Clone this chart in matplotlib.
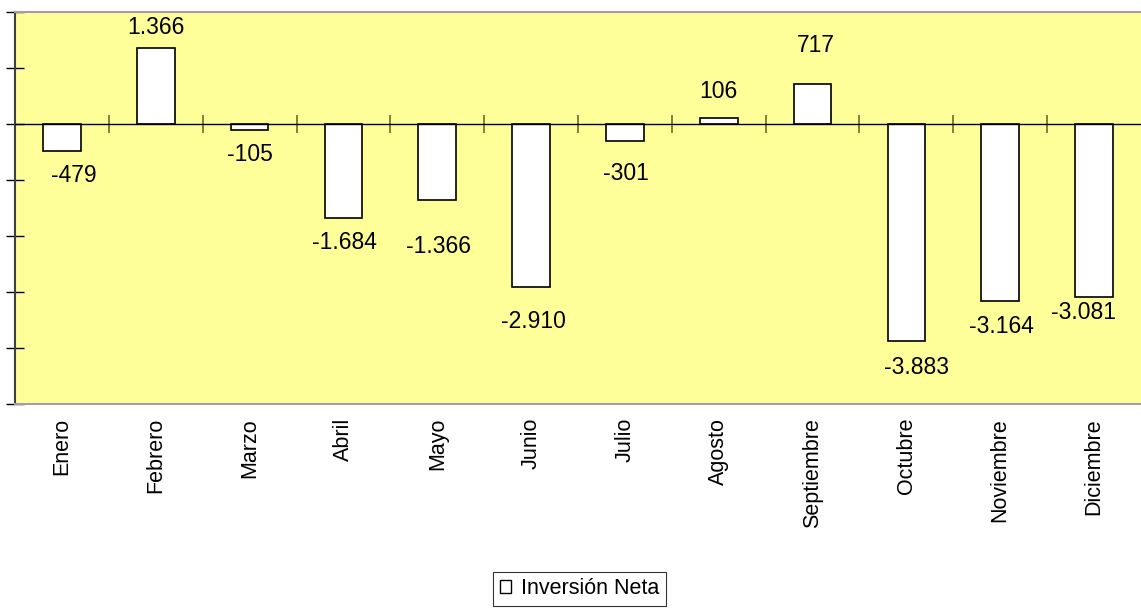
import matplotlib
matplotlib.use("Agg")
import matplotlib.pyplot as plt
from matplotlib.patches import Patch

months = ["Enero", "Febrero", "Marzo", "Abril", "Mayo", "Junio", "Julio",
          "Agosto", "Septiembre", "Octubre", "Noviembre", "Diciembre"]
values = [-479, 1366, -105, -1684, -1366, -2910, -301, 106, 717, -3883, -3164, -3081]
series_name = "Inversión Neta"

# label offsets from the bar end, in pixels (dx, dy)
label_dx = [11.5, 0, 0, 1, 1.5, 2, 1, 0, 3, 10.5, 1, -10.5]
label_dy = [-25, 20.5, -25, -24.5, -46, -35, -33, 27, 38, -26, -25.5, -16]

plt.rcParams['font.family'] = ['Liberation Sans', 'DejaVu Sans']

fig = plt.figure(figsize=(11.41, 6.08), dpi=100)
ax = fig.add_axes([15/1141, 1 - 404/608, 1 - 15/1141, (404 - 12)/608])
ax.set_facecolor('#FFFF99')

x = list(range(len(months)))
ax.bar(x, values, width=0.4, color='white', edgecolor='black', linewidth=1.2, zorder=3)
ax.axhline(0, color='black', linewidth=1.0, zorder=4)
ax.plot([i + 0.5 for i in x[:-1]], [0] * (len(x) - 1), linestyle='none', marker='|',
        markersize=13, color='#6b6b2a', markeredgewidth=1.2, zorder=2)

def fmt(v):
    s = f"{abs(v):,}".replace(",", ".")
    return ("-" if v < 0 else "") + s

for xi, v, dx, dy in zip(x, values, label_dx, label_dy):
    ax.annotate(fmt(v), (xi, v), xytext=(dx, dy), textcoords='offset pixels',
                ha='center', va='center', fontsize=16.5, zorder=5)

ax.set_xlim(-0.5, len(months) - 0.5)
ax.set_ylim(-5000, 2000)
ax.set_yticks(range(-5000, 2001, 1000))
ax.set_yticklabels([])
ax.tick_params(axis='y', direction='inout', length=13, width=1.0, color='black')
ax.set_xticks(x)
ax.set_xticklabels(months, rotation=90, fontsize=15.5)
ax.tick_params(axis='x', length=0, pad=10)

ax.spines['left'].set_color('#404040')
ax.spines['left'].set_linewidth(1.5)
ax.spines['top'].set_color('#a0a0a0')
ax.spines['top'].set_linewidth(1.5)
ax.spines['bottom'].set_color('#a0a0a0')
ax.spines['bottom'].set_linewidth(1.5)
ax.spines['right'].set_visible(False)

handle = Patch(facecolor='white', edgecolor='black', linewidth=1.0)
leg = fig.legend([handle], [series_name], loc='center', bbox_to_anchor=(579.5/1141, 1 - 589/608),
                 fontsize=15.5, frameon=True, fancybox=False, edgecolor='black',
                 handlelength=0.55, handleheight=0.55, handletextpad=0.45, borderpad=0.3,
                 borderaxespad=0)
leg.get_frame().set_linewidth(0.8)

fig.savefig("out.png", dpi=100)
